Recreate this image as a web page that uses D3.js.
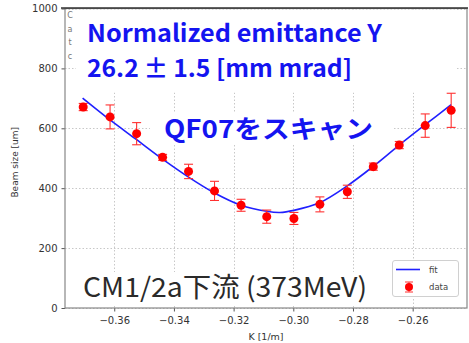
<!DOCTYPE html>
<html>
<head>
<meta charset="utf-8">
<script src="https://cdn.jsdelivr.net/npm/d3@7"></script>
<style>
    body { margin: 0; background: #fff; }
    svg { display: block; font-family: "DejaVu Sans", sans-serif; }
</style>
</head>
<body>
<svg id="chart" width="469" height="343"></svg>
<script>
/**
 * Beam size vs quad strength K (QF07 scan), fit + measured data
 */

// measured points
let kData = [-0.3704, -0.3614, -0.3525, -0.3438, -0.3351, -0.3264, -0.3175, -0.3089,
             -0.2998, -0.2911, -0.2819, -0.2732, -0.2645, -0.2558, -0.2471];
let sizeData = [671, 638, 582, 503, 456, 391, 343, 305, 299, 346, 388, 472, 544, 609, 660];
let sizeErr = [12, 40, 37, 10, 24, 32, 20, 22, 20, 25, 22, 12, 12, 39, 57];

// fit curve
let kFit = [-0.3706, -0.3614, -0.3525, -0.3438, -0.3351, -0.3264, -0.3175, -0.3089,
            -0.3045, -0.2998, -0.2911, -0.2819, -0.2732, -0.2645, -0.2558, -0.2471];
let sizeFit = [701, 628, 562, 497, 437, 384, 343, 323, 319, 326, 352, 408, 473, 544, 612, 679];

let xTicks = [-0.36, -0.34, -0.32, -0.30, -0.28, -0.26];
let yTicks = [0, 200, 400, 600, 800, 1000];

let plot = {
    left: 65,
    right: 467,
    top: 8.5,
    bottom: 308
};

let svg = d3.select("#chart");

let x = d3.scaleLinear()
    .domain([-0.3765, -0.2418])
    .range([plot.left, plot.right]);

let y = d3.scaleLinear()
    .domain([0, 1000])
    .range([plot.bottom, plot.top]);

svg.append("rect")
    .attr("width", 469)
    .attr("height", 343)
    .attr("fill", "#fff");

// grid
let grid = svg.append("g")
    .attr("stroke", "#c8c8c8")
    .attr("stroke-width", 1)
    .attr("stroke-dasharray", "1.5,2");

grid.selectAll(".gx")
    .data(xTicks)
    .enter()
    .append("line")
    .attr("x1", d => Math.round(x(d)) + 0.5)
    .attr("x2", d => Math.round(x(d)) + 0.5)
    .attr("y1", plot.top)
    .attr("y2", plot.bottom);

grid.selectAll(".gy")
    .data(yTicks)
    .enter()
    .append("line")
    .attr("x1", plot.left)
    .attr("x2", plot.right)
    .attr("y1", d => Math.round(y(d)) + 0.5)
    .attr("y2", d => Math.round(y(d)) + 0.5);

// white boxes behind the overlaid texts (they hide the grid)
let covers = [
    [76, 9.5, 380, 83],
    [150, 112, 243, 33],
    [78, 272, 292, 32]
];
svg.selectAll(".cover")
    .data(covers)
    .enter()
    .append("rect")
    .attr("x", d => d[0])
    .attr("y", d => d[1])
    .attr("width", d => d[2])
    .attr("height", d => d[3])
    .attr("fill", "#fff");

// axes
let xAxis = d3.axisBottom(x)
    .tickValues(xTicks)
    .tickFormat(d3.format(".2f"))
    .tickSize(3.5)
    .tickPadding(5);

let yAxis = d3.axisLeft(y)
    .tickValues(yTicks)
    .tickFormat(d3.format("d"))
    .tickSize(3.5)
    .tickPadding(4);

let gx = svg.append("g")
    .attr("transform", "translate(0," + plot.bottom + ")")
    .call(xAxis);

let gy = svg.append("g")
    .attr("transform", "translate(" + plot.left + ",0)")
    .call(yAxis);

[gx, gy].forEach(function(g) {
    g.select(".domain").remove();
    g.selectAll("line").attr("stroke", "#555");
    g.selectAll("text")
        .attr("fill", "#333")
        .style("font-size", "10px")
        .style("font-family", "DejaVu Sans");
});

// frame
svg.append("rect")
    .attr("x", plot.left)
    .attr("y", plot.top)
    .attr("width", plot.right - plot.left)
    .attr("height", plot.bottom - plot.top)
    .attr("fill", "none")
    .attr("stroke", "#888")
    .attr("stroke-width", 1.2);

svg.append("line")
    .attr("x1", plot.left - 4)
    .attr("x2", plot.right + 1)
    .attr("y1", plot.top - 0.5)
    .attr("y2", plot.top - 0.5)
    .attr("stroke", "#333")
    .attr("stroke-width", 1.6);

// axis labels
svg.append("text")
    .attr("transform", "translate(18," + ((plot.top + plot.bottom) / 2 + 4) + ") rotate(-90)")
    .attr("text-anchor", "middle")
    .attr("fill", "#333")
    .style("font-size", "9px")
    .text("Beam size [um]");

svg.append("text")
    .attr("x", (plot.left + plot.right) / 2)
    .attr("y", 340)
    .attr("text-anchor", "middle")
    .attr("fill", "#333")
    .style("font-size", "9.5px")
    .text("K [1/m]");

// clipped letters left over in the top-left corner
let stray = ["C", "a", "t", "c"];
svg.selectAll(".stray")
    .data(stray)
    .enter()
    .append("text")
    .attr("x", 70)
    .attr("y", (d, i) => 18 + i * 13.7)
    .attr("text-anchor", "middle")
    .attr("fill", "#777")
    .style("font-size", "8px")
    .text(d => d);

// fit line
let line = d3.line()
    .x((d, i) => x(kFit[i]))
    .y(d => y(d))
    .curve(d3.curveCatmullRom.alpha(0.5));

svg.append("path")
    .datum(sizeFit)
    .attr("d", line)
    .attr("fill", "none")
    .attr("stroke", "#2020ff")
    .attr("stroke-width", 1.6);

// error bars + points
let pts = svg.append("g")
    .selectAll("g")
    .data(sizeData)
    .enter()
    .append("g")
    .each(function(d, i) {
        let elem = d3.select(this);
        let cx = x(kData[i]);
        let top = y(d + sizeErr[i]);
        let bot = y(d - sizeErr[i]);
        elem.append("line")
            .attr("x1", cx).attr("x2", cx)
            .attr("y1", top).attr("y2", bot)
            .attr("stroke", "#ff3030")
            .attr("stroke-width", 1.1);
        [top, bot].forEach(function(yy) {
            elem.append("line")
                .attr("x1", cx - 4.5).attr("x2", cx + 4.5)
                .attr("y1", yy).attr("y2", yy)
                .attr("stroke", "#ff3030")
                .attr("stroke-width", 1.1);
        });
        elem.append("circle")
            .attr("cx", cx)
            .attr("cy", y(d))
            .attr("r", 4.5)
            .attr("fill", "#ff0000");
    });

// legend
let legend = svg.append("g");
legend.append("rect")
    .attr("x", 392.5)
    .attr("y", 260.5)
    .attr("width", 66)
    .attr("height", 36)
    .attr("rx", 2.5)
    .attr("fill", "#fff")
    .attr("stroke", "#d0d0d0");
legend.append("line")
    .attr("x1", 396).attr("x2", 420)
    .attr("y1", 269.5).attr("y2", 269.5)
    .attr("stroke", "#2020ff")
    .attr("stroke-width", 1.6);
legend.append("line")
    .attr("x1", 409).attr("x2", 409)
    .attr("y1", 282).attr("y2", 292)
    .attr("stroke", "#ff3030");
[282, 292].forEach(function(yy) {
    legend.append("line")
        .attr("x1", 405).attr("x2", 413)
        .attr("y1", yy).attr("y2", yy)
        .attr("stroke", "#ff3030");
});
legend.append("circle")
    .attr("cx", 409).attr("cy", 287)
    .attr("r", 4)
    .attr("fill", "#ff0000");
legend.selectAll(".lt")
    .data(["fit", "data"])
    .enter()
    .append("text")
    .attr("x", 429)
    .attr("y", (d, i) => 272.5 + i * 17.5)
    .attr("fill", "#444")
    .style("font-size", "8.5px")
    .text(d => d);

// overlaid annotation texts
let notes = [
    {text: "Normalized emittance Y", x: 87, y: 42, len: 295, size: 24, color: "#1414f0", weight: 700},
    {text: "26.2\u2009\u00b1\u20091.5 [mm mrad]", x: 87, y: 77, len: 265, size: 24, color: "#1414f0", weight: 700},
    {text: "QF07をスキャン", x: 164, y: 138, len: 209, size: 25, color: "#1414f0", weight: 700},
    {text: "CM1/2a下流 (373MeV)", x: 83, y: 297, len: 284, size: 27, color: "#2a2a2a", weight: 400}
];

svg.selectAll(".note")
    .data(notes)
    .enter()
    .append("text")
    .attr("x", d => d.x)
    .attr("y", d => d.y)
    .attr("textLength", d => d.len)
    .attr("lengthAdjust", "spacingAndGlyphs")
    .attr("fill", d => d.color)
    .style("font-family", "'Noto Sans CJK JP', 'Noto Sans', sans-serif")
    .style("font-size", d => d.size + "px")
    .style("font-weight", d => d.weight)
    .text(d => d.text);
</script>
</body>
</html>
